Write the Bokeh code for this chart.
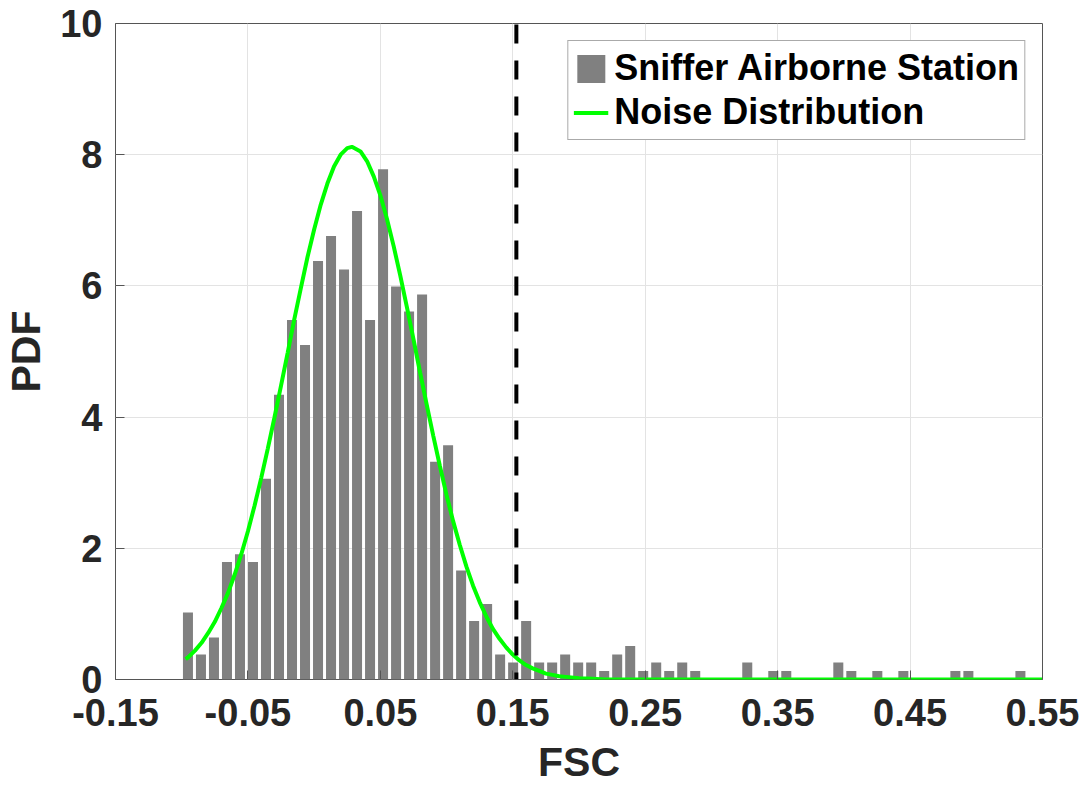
from bokeh.plotting import figure
from bokeh.models import (FixedTicker, PrintfTickFormatter, Range1d,
                          Legend, LegendItem, ColumnDataSource)
from bokeh.embed import file_html
from bokeh.resources import INLINE

# ---------------- data ----------------
bin_start = -0.1002
bin_width = 0.009822
pdf_values = [1.02, 0.38, 0.64, 1.79, 1.91, 1.79, 3.06, 4.34, 5.48, 5.10,
              6.38, 6.76, 6.25, 7.14, 5.48, 7.78, 5.99, 5.61, 5.87, 3.32,
              3.57, 1.66, 0.89, 1.15, 0.38, 0.26, 0.89, 0.26, 0.26, 0.38,
              0.26, 0.26, 0.13, 0.38, 0.51, 0.13, 0.26, 0.13, 0.26, 0.13,
              0.0, 0.0, 0.0, 0.26, 0.0, 0.13, 0.13, 0.0, 0.0, 0.0,
              0.26, 0.13, 0.0, 0.13, 0.0, 0.13, 0.0, 0.0, 0.0, 0.13,
              0.13, 0.0, 0.0, 0.0, 0.13]

curve_x = [-0.097, -0.095, -0.09, -0.085, -0.08, -0.075, -0.07, -0.065, -0.06, -0.055,
           -0.05, -0.045, -0.04, -0.035, -0.03, -0.025, -0.02, -0.015, -0.01, -0.005,
           0.0, 0.005, 0.01, 0.015, 0.02, 0.025, 0.0285, 0.035, 0.04, 0.045,
           0.05, 0.055, 0.06, 0.065, 0.07, 0.075, 0.08, 0.085, 0.09, 0.095,
           0.10, 0.105, 0.11, 0.115, 0.12, 0.125, 0.13, 0.135, 0.14, 0.145,
           0.15, 0.155, 0.16, 0.165, 0.17, 0.175, 0.18, 0.185, 0.19, 0.20,
           0.21, 0.22, 0.25, 0.30, 0.35, 0.40, 0.45, 0.50, 0.55]
curve_y = [0.31, 0.34, 0.44, 0.56, 0.71, 0.88, 1.09, 1.32, 1.60, 1.91,
           2.26, 2.65, 3.07, 3.52, 3.99, 4.48, 4.98, 5.49, 5.97, 6.44,
           6.86, 7.24, 7.56, 7.82, 8.00, 8.10, 8.12, 8.05, 7.90, 7.67,
           7.38, 7.02, 6.61, 6.16, 5.68, 5.19, 4.68, 4.19, 3.71, 3.25,
           2.81, 2.41, 2.05, 1.72, 1.43, 1.18, 0.96, 0.77, 0.62, 0.49,
           0.38, 0.29, 0.22, 0.17, 0.13, 0.09, 0.07, 0.05, 0.04, 0.02,
           0.01, 0.0, 0.0, 0.0, 0.0, 0.0, 0.0, 0.0, 0.0]

threshold_x = [0.1527, 0.1527]
threshold_y = [0, 10]

x_ticks = [-0.15, -0.05, 0.05, 0.15, 0.25, 0.35, 0.45, 0.55]
y_ticks = [0, 2, 4, 6, 8, 10]

bar_label = "Sniffer Airborne Station"
curve_label = "Noise Distribution"
x_title = "FSC"
y_title = "PDF"

# ---------------- figure ----------------
FONT = "Liberation Sans"
TXT = "#262626"
AX = "#555555"

centers = [bin_start + bin_width * (i + 0.5) for i in range(len(pdf_values))]
bars_src = ColumnDataSource(dict(x=centers, top=pdf_values))
curve_src = ColumnDataSource(dict(x=curve_x, y=curve_y))

p = figure(width=1086, height=787,
           x_range=Range1d(-0.15, 0.55), y_range=Range1d(0, 10),
           output_backend="svg", toolbar_location=None,
           min_border_left=115, min_border_right=44,
           min_border_top=23, min_border_bottom=108)
p.background_fill_color = "white"
p.border_fill_color = "white"
p.outline_line_color = AX
p.outline_line_width = 1

bars = p.vbar(x="x", top="top", bottom=0, width=bin_width * 0.77, source=bars_src,
              fill_color="#808080", line_color=None)
curve = p.line(x="x", y="y", source=curve_src, line_color="#00FF00", line_width=4)
p.line(x=threshold_x, y=threshold_y, line_color="black", line_width=4,
       line_dash="19 17", line_dash_offset=12)

# axes
for ax in (p.xaxis[0], p.yaxis[0]):
    ax.axis_line_color = None
    ax.major_tick_in = 9
    ax.major_tick_out = 0
    ax.major_tick_line_color = AX
    ax.minor_tick_line_color = None
    ax.major_label_text_font = FONT
    ax.major_label_text_font_style = "bold"
    ax.major_label_text_font_size = "38px"
    ax.major_label_text_color = TXT
    ax.axis_label_text_font = FONT
    ax.axis_label_text_font_style = "bold"
    ax.axis_label_text_font_size = "41px"
    ax.axis_label_text_color = TXT

p.xaxis[0].ticker = FixedTicker(ticks=x_ticks)
p.xaxis[0].formatter = PrintfTickFormatter(format="%.2f")
p.xaxis[0].axis_label = x_title
p.xaxis[0].major_label_standoff = 19
p.xaxis[0].axis_label_standoff = 10

p.yaxis[0].ticker = FixedTicker(ticks=y_ticks)
p.yaxis[0].formatter = PrintfTickFormatter(format="%d")
p.yaxis[0].axis_label = y_title
p.yaxis[0].major_label_standoff = 13
p.yaxis[0].axis_label_standoff = 8

# grid
p.xgrid.ticker = FixedTicker(ticks=x_ticks)
p.ygrid.ticker = FixedTicker(ticks=y_ticks)
for g in (p.xgrid[0], p.ygrid[0]):
    g.grid_line_color = "#e3e3e3"
    g.grid_line_width = 1

# legend
legend = Legend(items=[LegendItem(label=bar_label, renderers=[bars]),
                       LegendItem(label=curve_label, renderers=[curve])],
                location="top_right", margin=17, padding=5, spacing=0,
                glyph_width=35, glyph_height=35, label_height=44,
                label_standoff=6,
                label_text_font=FONT, label_text_font_style="bold",
                label_text_font_size="36px", label_text_color="black",
                border_line_color=AX, border_line_width=1,
                background_fill_color="white", background_fill_alpha=1)
p.add_layout(legend, "center")

open("out.html", "w").write(file_html(p, INLINE))
